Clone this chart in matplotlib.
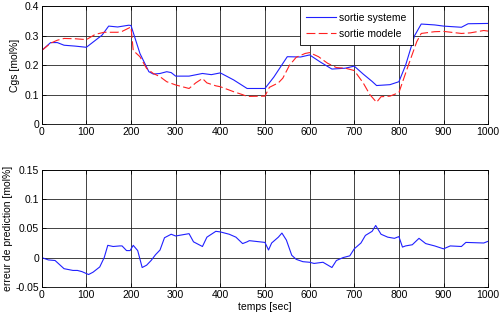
import matplotlib
matplotlib.use("Agg")
import matplotlib.pyplot as plt

plt.rcParams['font.family'] = ['Liberation Sans', 'DejaVu Sans']

# sortie systeme (blue)
sys_t = [0, 20, 35, 50, 75, 100, 135, 150, 170, 195, 200, 220, 240, 250, 265, 280, 290, 300, 330, 360, 380, 400, 430, 460, 500,
         520, 550, 580, 600, 625, 650, 680, 700, 720, 740, 750, 780, 800, 815, 835, 850, 880, 900, 940, 955, 1000]
sys_y = [0.25, 0.277, 0.277, 0.268, 0.265, 0.261, 0.302, 0.333, 0.330, 0.336, 0.335, 0.24, 0.178, 0.170, 0.172, 0.178, 0.175, 0.163, 0.163, 0.172, 0.168, 0.174, 0.150, 0.121, 0.121,
         0.160, 0.229, 0.228, 0.235, 0.210, 0.187, 0.190, 0.197, 0.170, 0.145, 0.131, 0.134, 0.144, 0.200, 0.300, 0.340, 0.337, 0.333, 0.329, 0.341, 0.342]

# sortie modele (red)
mod_t = [0, 20, 35, 50, 75, 100, 120, 140, 170, 180, 200, 205, 220, 235, 250, 265, 280, 300, 330, 345, 360, 370, 390, 400, 430, 450, 460, 500,
         510, 530, 540, 555, 570, 590, 600, 620, 640, 660, 680, 700, 720, 735, 750, 760, 780, 800, 820, 840, 850, 880, 900, 940, 960, 990, 1000]
mod_y = [0.25, 0.275, 0.285, 0.291, 0.290, 0.287, 0.305, 0.312, 0.312, 0.315, 0.330, 0.25, 0.229, 0.189, 0.172, 0.161, 0.144, 0.133, 0.121, 0.140, 0.155, 0.140, 0.130, 0.127, 0.110, 0.100, 0.094, 0.095,
         0.125, 0.140, 0.156, 0.200, 0.227, 0.240, 0.243, 0.229, 0.207, 0.192, 0.190, 0.182, 0.140, 0.100, 0.074, 0.093, 0.095, 0.107, 0.195, 0.280, 0.308, 0.314, 0.315, 0.308, 0.310, 0.318, 0.316]

# erreur de prediction
err_t = [0, 15, 30, 40, 50, 70, 80, 90, 105, 115, 130, 140, 148, 160, 175, 180, 190, 198, 205, 215, 225, 235, 245, 255, 265, 275, 290, 300, 330, 340, 360, 370, 390, 400, 420, 435, 450, 460,
         465, 500, 508, 515, 530, 538, 548, 560, 570, 585, 600, 610, 630, 650, 660, 675, 690, 700, 715, 725, 740, 748, 760, 775, 790, 800, 808, 815, 830, 845, 850, 860, 880, 900, 915, 940, 950, 990, 1000]
err_y = [0.0, -0.004, -0.005, -0.012, -0.019, -0.022, -0.022, -0.024, -0.029, -0.025, -0.016, 0.0, 0.021, 0.019, 0.020, 0.020, 0.012, 0.012, 0.021, 0.012, -0.017, -0.013, -0.005, 0.005, 0.013, 0.034, 0.040, 0.037, 0.041, 0.027, 0.019, 0.035, 0.045, 0.044, 0.040, 0.035, 0.024, 0.027,
         0.029, 0.026, 0.013, 0.025, 0.035, 0.042, 0.030, 0.004, -0.003, -0.007, -0.008, -0.010, -0.008, -0.017, -0.005, 0.0, 0.003, 0.015, 0.025, 0.038, 0.045, 0.055, 0.040, 0.035, 0.033, 0.036, 0.018, 0.020, 0.022, 0.033, 0.030, 0.024, 0.020, 0.015, 0.020, 0.019, 0.026, 0.025, 0.028]

xticks = [0, 100, 200, 300, 400, 500, 600, 700, 800, 900, 1000]
top_yticks = [0, 0.1, 0.2, 0.3, 0.4]
top_ylabels = ['0', '0.1', '0.2', '0.3', '0.4']
bot_yticks = [-0.05, 0, 0.05, 0.1, 0.15]
bot_ylabels = ['-0.05', '0', '0.05', '0.1', '0.15']

fig = plt.figure(figsize=(5.0, 3.19), dpi=100)
ax1 = fig.add_axes([0.0834, 0.611, 0.893, 0.369])
ax2 = fig.add_axes([0.0834, 0.101, 0.893, 0.366])

fs = 7.5
for ax in (ax1, ax2):
    ax.set_xlim(0, 1000)
    ax.set_xticks(xticks)
    ax.set_xticklabels([str(v) for v in xticks], fontsize=fs)
    ax.grid(True, color='#222222', linewidth=0.6, linestyle='-')
    ax.set_axisbelow(True)
    ax.tick_params(direction='in', length=3, width=0.6, pad=2, top=True, right=True)
    for s in ax.spines.values():
        s.set_linewidth(0.6)

ax1.plot(sys_t, sys_y, color='#2020ff', linewidth=0.8, label='sortie systeme')
ax1.plot(mod_t, mod_y, color='#ff2020', linewidth=0.8, linestyle=(0, (8, 3)), label='sortie modele')
ax1.set_ylim(0, 0.4)
ax1.set_yticks(top_yticks)
ax1.set_yticklabels(top_ylabels, fontsize=fs)
ax1.set_ylabel('Cgs [mol%]', fontsize=fs, labelpad=3)
leg = ax1.legend(loc='upper right', bbox_to_anchor=(0.831, 1.0), borderaxespad=0, fancybox=False,
                 framealpha=1, edgecolor='black', fontsize=fs, handlelength=2.9, handletextpad=0.3,
                 borderpad=0.6, labelspacing=0.6)
leg.get_frame().set_linewidth(0.6)

ax2.plot(err_t, err_y, color='#2020ff', linewidth=0.8)
ax2.set_ylim(-0.05, 0.15)
ax2.set_yticks(bot_yticks)
ax2.set_yticklabels(bot_ylabels, fontsize=fs)
ax2.set_ylabel('erreur de prediction [mol%]', fontsize=fs, labelpad=2)
ax2.set_xlabel('temps [sec]', fontsize=fs, labelpad=2)

fig.savefig('out.png', dpi=100)
